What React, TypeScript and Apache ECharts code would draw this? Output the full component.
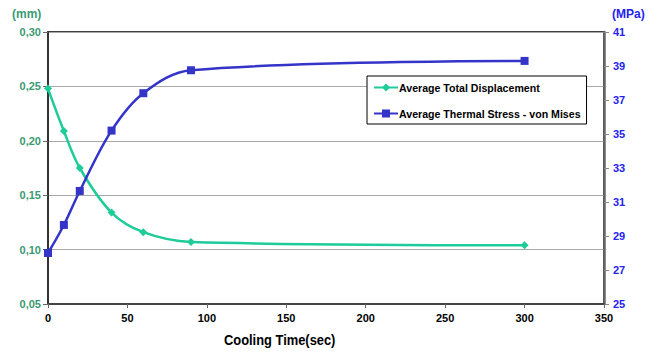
import React, { useEffect, useRef } from "react";
import * as echarts from "echarts";

const coolingTime = [0, 10, 20, 40, 60, 90, 300];
const avgDisplacement = [0.248, 0.209, 0.175, 0.134, 0.116, 0.107, 0.104];
const avgThermalStress = [28.0, 29.65, 31.65, 35.2, 37.4, 38.75, 39.3];

const leftTicks = { min: 0.05, max: 0.3, interval: 0.05 };
const rightTicks = { min: 25, max: 41, interval: 2 };
const xTicks = { min: 0, max: 350, interval: 50 };

const GREEN = "#1dcc98";
const BLUE = "#3434c8";
const GREEN_LABEL = "#3a9a72";
const BLUE_LABEL = "#2323f0";
const FONT = "Liberation Sans, Arial, sans-serif";

export default function App() {
  const ref = useRef<HTMLDivElement>(null);
  useEffect(() => {
    if (!ref.current) return;
    const chart = echarts.init(ref.current, null, { renderer: "svg" });
    chart.setOption({
      animation: false,
      textStyle: { fontFamily: FONT },
      grid: {
        left: 48,
        right: 57,
        top: 32,
        bottom: 51,
        show: true,
        borderColor: "#000",
        borderWidth: 1.5,
        backgroundColor: "transparent",
      },
      legend: {
        left: 367,
        top: 76,
        orient: "vertical",
        padding: [6, 6, 5, 6],
        itemWidth: 24,
        itemHeight: 10,
        itemGap: 15,
        borderColor: "#000",
        borderWidth: 1,
        backgroundColor: "#fff",
        textStyle: { fontFamily: FONT, fontWeight: "bold", fontSize: 10.6, color: "#000", padding: [0, 0, 0, -4] },
        data: ["Average Total Displacement", "Average Thermal Stress - von Mises"],
      },
      xAxis: {
        type: "value",
        min: xTicks.min,
        max: xTicks.max,
        interval: xTicks.interval,
        axisLine: { show: true, lineStyle: { color: "#444", width: 2 } },
        axisTick: { show: true, length: 4, lineStyle: { color: "#666" } },
        axisLabel: { color: "#000", fontWeight: "bold", fontSize: 11, margin: 8, fontFamily: FONT },
        splitLine: { show: false },
      },
      yAxis: [
        {
          type: "value",
          position: "left",
          min: leftTicks.min,
          max: leftTicks.max,
          interval: leftTicks.interval,
          axisLine: { show: true, lineStyle: { color: "#333", width: 2 } },
          axisTick: { show: true, length: 5, lineStyle: { color: "#666" } },
          axisLabel: {
            color: GREEN_LABEL,
            fontWeight: "bold",
            fontSize: 11,
            margin: 7,
            fontFamily: FONT,
            formatter: (v: number) => v.toFixed(2).replace(".", ","),
          },
          splitLine: { show: true, lineStyle: { color: "#a8a8a8", width: 1.2 } },
        },
        {
          type: "value",
          position: "right",
          min: rightTicks.min,
          max: rightTicks.max,
          interval: rightTicks.interval,
          axisLine: { show: true, lineStyle: { color: "#666", width: 2.5 } },
          axisTick: { show: true, length: 5, lineStyle: { color: "#888" } },
          axisLabel: { color: BLUE_LABEL, fontWeight: "bold", fontSize: 11, margin: 9, fontFamily: FONT },
          splitLine: { show: false },
        },
      ],
      graphic: [
        {
          type: "text",
          left: 12,
          top: 8,
          style: { text: "(mm)", fill: GREEN_LABEL, font: `bold 12px ${FONT}` },
        },
        {
          type: "text",
          left: 612,
          top: 8,
          style: { text: "(MPa)", fill: BLUE_LABEL, font: `bold 12px ${FONT}` },
        },
        {
          type: "text",
          x: 224,
          y: 332,
          scaleX: 0.86,
          style: { text: "Cooling Time(sec)", fill: "#000", font: `bold 15px ${FONT}` },
        },
      ],
      series: [
        {
          name: "Average Total Displacement",
          type: "line",
          yAxisIndex: 0,
          smooth: 0.35,
          symbol: "diamond",
          symbolSize: 8,
          itemStyle: { color: GREEN },
          lineStyle: { color: GREEN, width: 2.5 },
          data: coolingTime.map((t, i) => [t, avgDisplacement[i]]),
        },
        {
          name: "Average Thermal Stress - von Mises",
          type: "line",
          yAxisIndex: 1,
          smooth: 0.35,
          symbol: "rect",
          symbolSize: 8,
          itemStyle: { color: BLUE },
          lineStyle: { color: BLUE, width: 2.5 },
          data: coolingTime.map((t, i) => [t, avgThermalStress[i]]),
        },
      ],
    });
    return () => chart.dispose();
  }, []);
  return (
    <div
      ref={ref}
      style={{ position: "fixed", left: 0, top: 0, width: 661, height: 355, background: "#fff" }}
    />
  );
}
